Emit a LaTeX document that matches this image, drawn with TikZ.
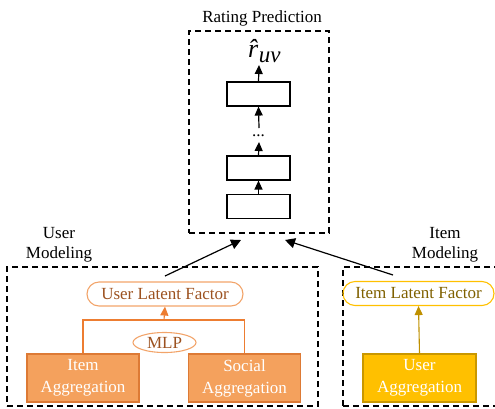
\documentclass[tikz,border=0pt]{standalone}
\usepackage{fontspec}
\setmainfont{Liberation Serif}
\usetikzlibrary{arrows.meta,shapes.geometric}

\definecolor{aggfill}{HTML}{F4A15D}
\definecolor{aggdraw}{HTML}{DD7A35}
\definecolor{userline}{HTML}{ED7D31}
\definecolor{userlat}{HTML}{F2A46A}
\definecolor{usertext}{HTML}{9C5220}
\definecolor{goldfill}{HTML}{FFC000}
\definecolor{golddraw}{HTML}{C99700}
\definecolor{goldline}{HTML}{BF9000}
\definecolor{goldtext}{HTML}{7F6000}

\tikzset{
  txt/.style={font=\fontsize{17}{21}\selectfont, inner sep=0pt},
  frame/.style={draw=black, line width=1.2pt, dash pattern=on 6pt off 4pt},
  layerbox/.style={draw=black, line width=1.1pt, minimum width=63pt, minimum height=24pt, inner sep=0pt},
  aggbox/.style={draw=aggdraw, fill=aggfill, line width=1.2pt, minimum width=112pt, minimum height=48pt,
    inner sep=0pt, align=center, text=white, font=\fontsize{17}{22}\selectfont},
  goldbox/.style={aggbox, draw=golddraw, fill=goldfill, minimum width=113pt},
  latent/.style={rounded corners=12pt, draw, line width=1.1pt, minimum height=24pt, inner sep=0pt,
    font=\fontsize{17}{21}\selectfont},
  blackarrow/.style={draw=black, line width=1.2pt, -{Triangle[length=10pt,width=10pt]}},
  uparrow/.style={draw=black, line width=1.2pt, -{Triangle[length=9pt,width=8pt]}},
}

\begin{document}
\begin{tikzpicture}[x=1pt, y=-1pt]
  \useasboundingbox (0,0) rectangle (495,408);

  % rating prediction block
  \node[frame, minimum width=140pt, minimum height=202pt, inner sep=0pt] (pred) at (259,132) {};
  \node[txt] (predlabel) at (262,18) {Rating Prediction};
  \node[inner sep=0pt, anchor=base west] (rhat) at (248,57)
    {\fontsize{26}{26}\selectfont\itshape \^{r}\kern0.5pt\raisebox{-5pt}{\fontsize{23}{23}\selectfont uv}};
  \node[layerbox] (l1) at (258.5,94) {};
  \node[txt, anchor=base] (dots) at (258.5,136) {...};
  \node[layerbox] (l2) at (258.5,168) {};
  \node[layerbox] (l3) at (258.5,206.5) {};
  \coordinate (rfoot) at (259,65);
  \coordinate (dtop) at (259,128);
  \coordinate (dbot) at (259,142);

  \draw[uparrow] (l1.north) -- (rfoot);
  \draw[uparrow] (dtop) -- (l1.south);
  \draw[uparrow] (l2.north) -- (dbot);
  \draw[uparrow] (l3.north) -- (l2.south);

  % user modeling block
  \node[frame, minimum width=311pt, minimum height=139pt, inner sep=0pt] (userframe) at (162.5,336.5) {};
  \node[txt, align=center, font=\fontsize{17}{20}\selectfont] (userlabel) at (59,245) {User\\Modeling};
  \node[latent, draw=userlat, text=usertext, minimum width=156pt] (ulf) at (165,294) {User Latent Factor};
  \node[ellipse, draw=userlat, text=usertext, line width=1.1pt, minimum width=63pt, minimum height=20pt,
    inner sep=0pt, font=\fontsize{17}{21}\selectfont] (mlp) at (164.5,342.5) {MLP};
  \node[aggbox] (itemagg) at (83,378) {Item\\Aggregation};
  \node[aggbox] (socagg) at (244.5,378) {Social\\Aggregation};
  \coordinate (merge) at (164,320);
  \draw[userline, line width=1.1pt] (itemagg.north) |- (merge) -| (socagg.north);
  \draw[userline, line width=1.1pt, -{Triangle[length=9pt,width=8pt]}] (merge) -- (ulf.south);

  % item modeling block
  \node[frame, minimum width=154pt, minimum height=139pt, inner sep=0pt] (itemframe) at (420,336.5) {};
  \node[txt, align=center, font=\fontsize{17}{20}\selectfont] (itemlabel) at (445,245) {Item\\Modeling};
  \node[latent, draw=goldfill, text=goldtext, minimum width=151pt] (ilf) at (418.5,293.5) {Item Latent Factor};
  \node[goldbox] (useragg) at (419.5,378) {User\\Aggregation};
  \draw[goldline, line width=1.1pt, -{Triangle[length=9pt,width=8pt]}] (useragg.north) -- (ilf.south);

  % connections into the prediction block
  \coordinate (ustart) at (165,276);
  \coordinate (uend) at (241,240);
  \coordinate (istart) at (393,275);
  \coordinate (iend) at (285,240);
  \draw[blackarrow] (ustart) -- (uend);
  \draw[blackarrow] (istart) -- (iend);
\end{tikzpicture}
\end{document}
